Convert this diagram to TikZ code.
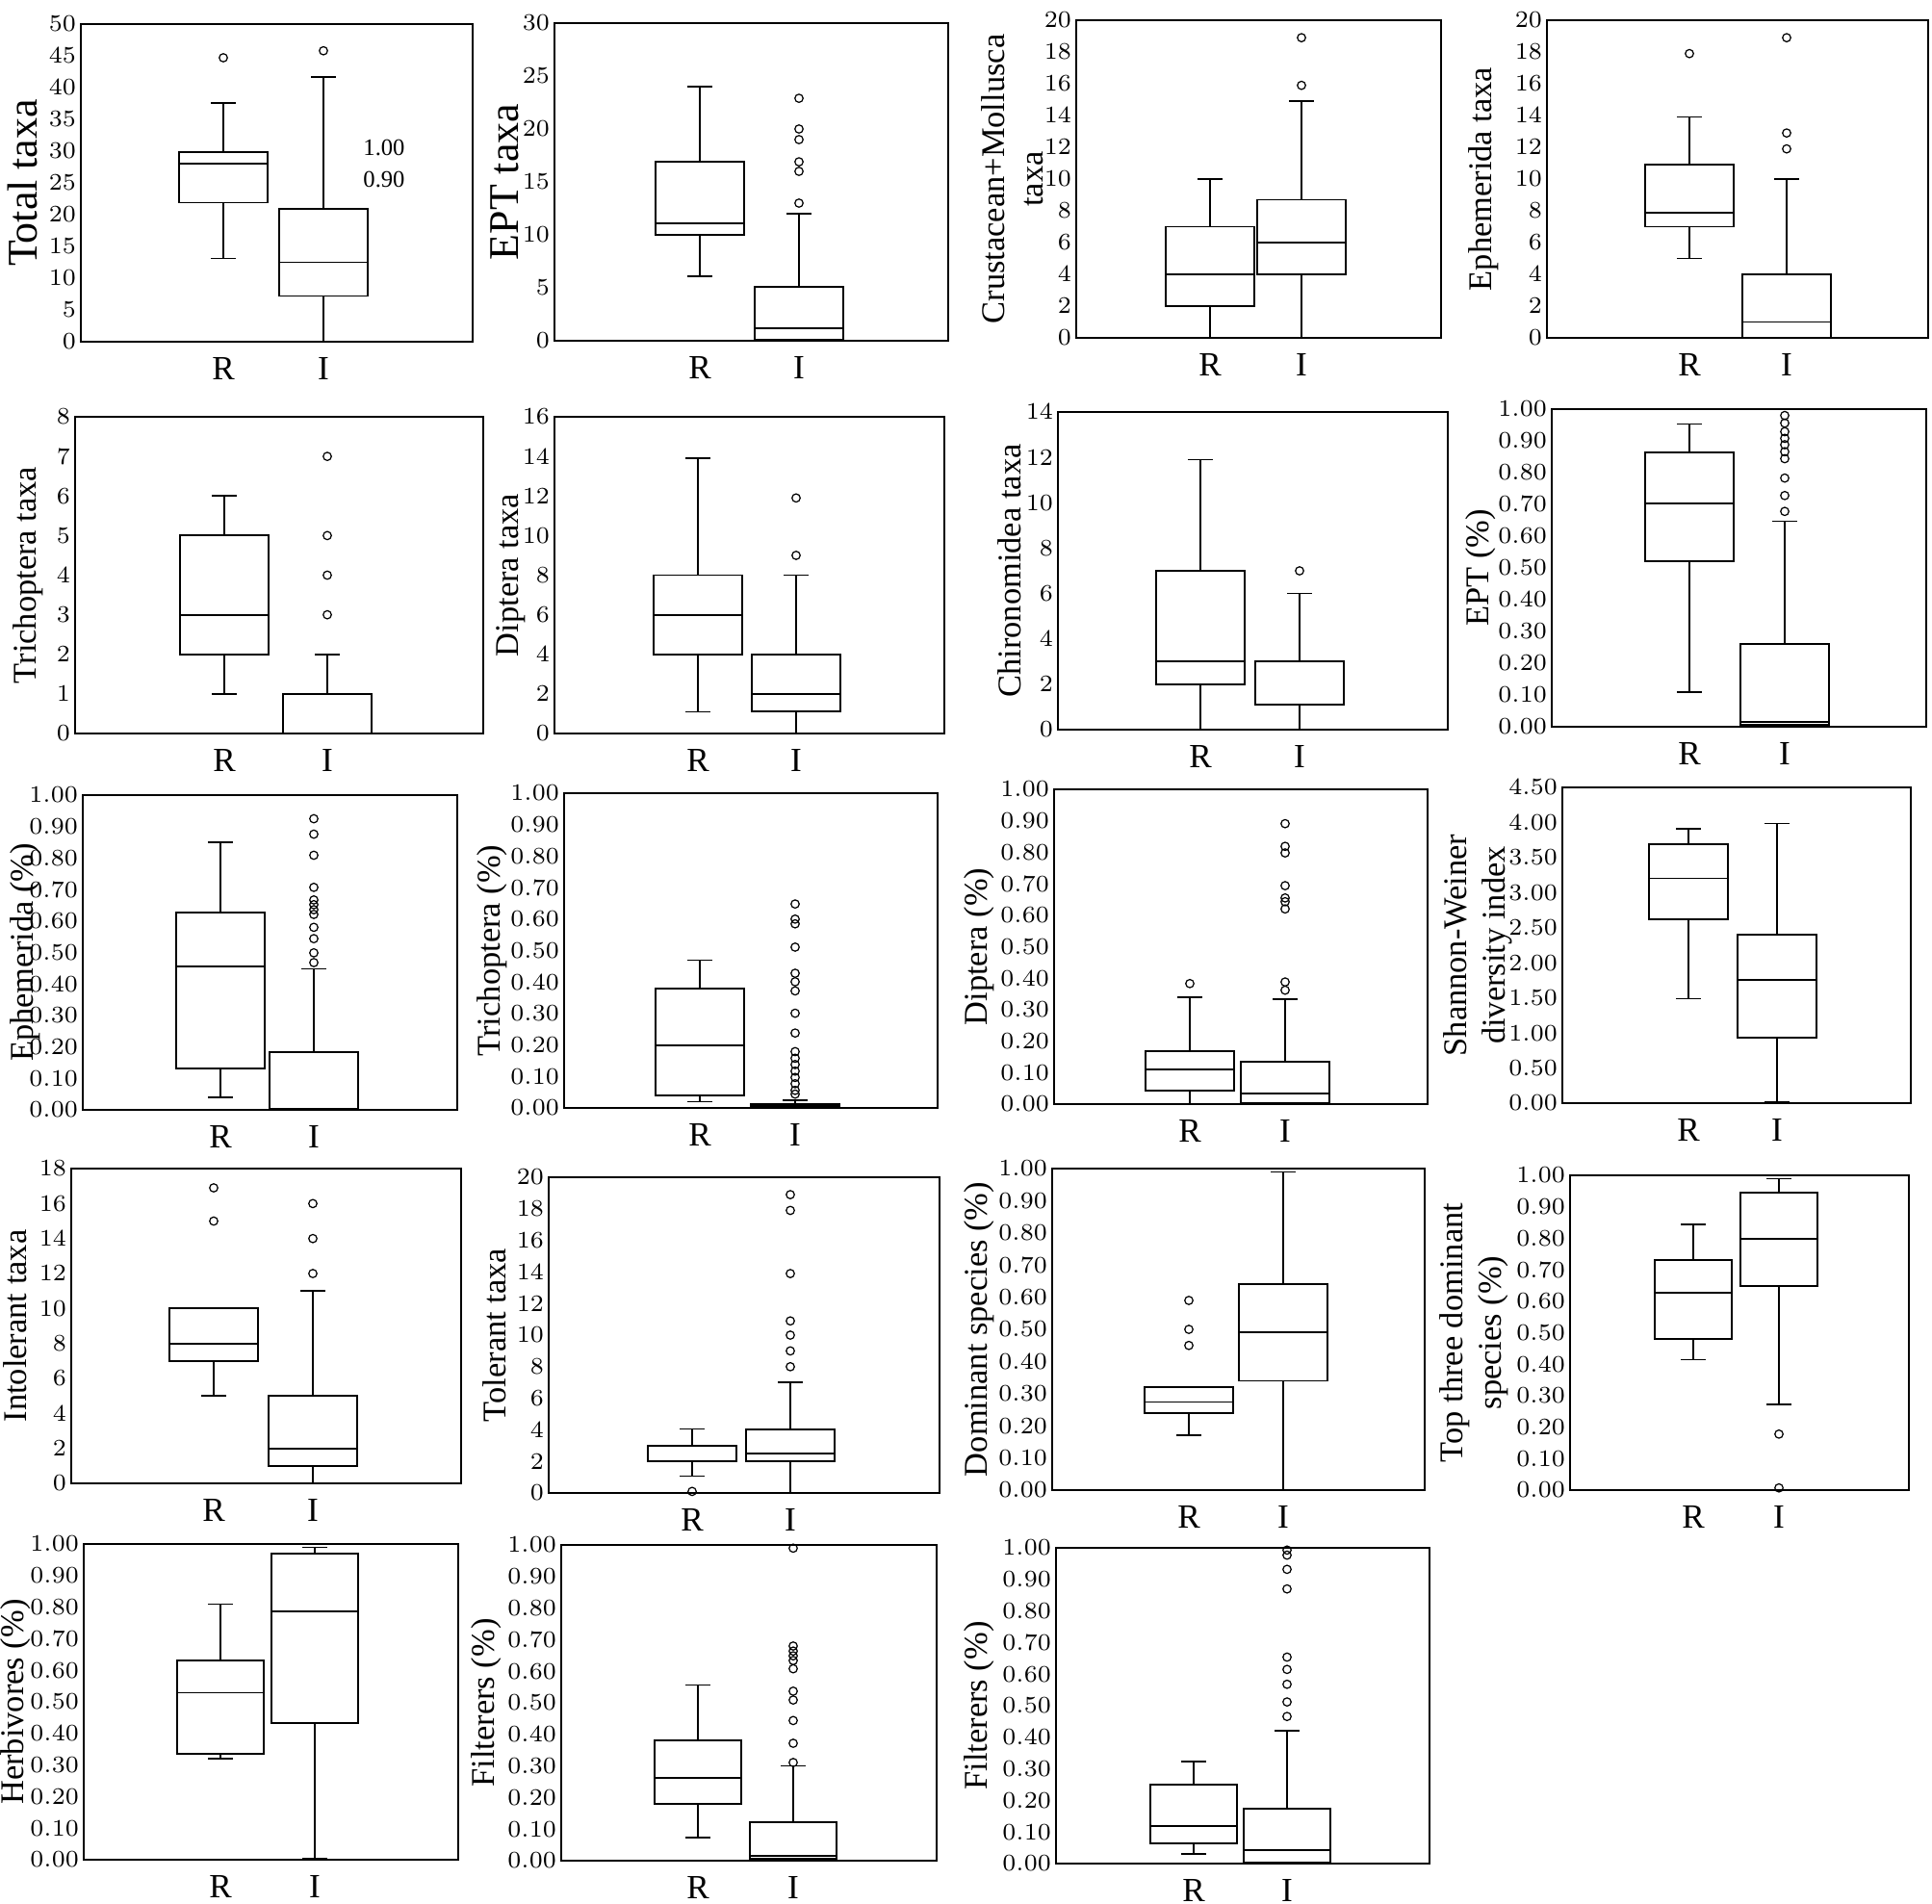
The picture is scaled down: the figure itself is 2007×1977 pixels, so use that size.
\documentclass[tikz,border=0pt]{standalone}
\usepackage{fontspec}
\setmainfont{Liberation Serif}
\tikzset{
  frm/.style={line width=0.6pt},
  bxs/.style={line width=0.55pt},
  wsk/.style={line width=0.45pt},
  outl/.style={circle,draw,line width=0.35pt,inner sep=0pt,minimum size=0.85mm},
  tick/.style={font=\fontsize{7}{8}\selectfont,inner sep=1pt},
  ylab/.style={rotate=90,align=center,font=\fontsize{9.8}{11.4}\selectfont,inner sep=0pt},
  glab/.style={font=\fontsize{10}{12}\selectfont,inner sep=0pt}
}
\newcommand\biglab{\fontsize{12.5}{14}\selectfont}
\def\hw{46}
% panel: left, top, right, bottom, ymax, step, decimals, label x, label
\newcommand\panel[9]{%
  \draw[frm] (#1,#2) rectangle (#3,#4);
  \pgfmathtruncatemacro\nt{round(#5/#6)}
  \begin{scope}[shift={(0,#4)},yscale={-(#4-#2)/#5}]
    \foreach \i in {0,...,\nt}{
      \pgfmathsetmacro\v{\i*#6}
      \pgfmathprintnumberto[fixed,fixed zerofill,precision=#7]{\v}{\vtxt}
      \node[tick,anchor=east] at (#1-1,\v) {\vtxt};}
  \end{scope}
  \node[ylab] at (#8,{(#2+#4)/2}) {#9};
  \xdef\pB{#4}\pgfmathsetmacro\pS{-(#4-#2)/#5}\xdef\pS{\pS}}
% box: group, x, low, q1, median, q3, high
\newcommand\bx[7]{%
  \begin{scope}[shift={(0,\pB)},yscale=\pS]
    \draw[wsk] (#2,#3) -- (#2,#4) (#2,#6) -- (#2,#7)
      (#2-13,#3) -- (#2+13,#3) (#2-13,#7) -- (#2+13,#7);
    \draw[bxs] (#2-\hw,#4) rectangle (#2+\hw,#6) (#2-\hw,#5) -- (#2+\hw,#5);
    \node[glab] at (#2,0) [yshift=-2.8mm] {#1};
  \end{scope}}
% outliers: x, values
\newcommand\ol[2]{%
  \begin{scope}[shift={(0,\pB)},yscale=\pS]
    \foreach \o in {#2} \node[outl] at (#1,\o) {};
  \end{scope}}
\begin{document}
\begin{tikzpicture}[x=0.1mm,y=-0.1mm]
\useasboundingbox (0,0) rectangle (2007,1977);
% row 1
\panel{84}{25}{491}{355}{50}{5}{0}{23}{\biglab Total taxa}
\bx{R}{232}{13.1}{21.9}{28.0}{29.9}{37.6} \ol{232}{44.7}
\bx{I}{336}{0}{7.2}{12.5}{20.9}{41.7} \ol{336}{45.8}
\node[tick] (s1) at (399,153) {1.00};
\node[tick] (s2) at (399,186) {0.90};
\panel{576}{24}{985}{354}{30}{5}{0}{524}{\biglab EPT taxa}
\bx{R}{727}{6.1}{10.0}{11.1}{16.9}{24.0}
\bx{I}{830}{0}{0.1}{1.2}{5.1}{12.0} \ol{830}{13,16,16.9,19,20,22.9}
\panel{1118}{21}{1497}{351}{20}{2}{0}{1052}{Crustacean+Mollusca\\taxa}
\bx{R}{1257}{0}{2}{4}{7}{10}
\bx{I}{1352}{0}{4}{6}{8.7}{14.9} \ol{1352}{15.9,18.9}
\panel{1607}{21}{2003}{351}{20}{2}{0}{1541}{Ephemerida taxa}
\bx{R}{1755}{5}{7}{7.9}{10.9}{13.9} \ol{1755}{17.9}
\bx{I}{1856}{0}{0}{1}{4}{10} \ol{1856}{11.9,12.9,18.9}
% row 2
\panel{78}{433}{502}{762}{8}{1}{0}{29}{Trichoptera taxa}
\bx{R}{233}{1}{2}{3}{5}{6}
\bx{I}{340}{0}{0}{0}{1}{2} \ol{340}{3,4,5,7}
\panel{576}{433}{981}{762}{16}{2}{0}{531}{Diptera taxa}
\bx{R}{725}{1.1}{4}{6}{8}{13.9}
\bx{I}{827}{0}{1.1}{2}{4}{8} \ol{827}{9,11.9}
\panel{1099}{428}{1504}{758}{14}{2}{0}{1049}{Chironomidea taxa}
\bx{R}{1247}{0}{2}{3}{7}{11.9}
\bx{I}{1350}{0}{1.1}{3}{3}{6} \ol{1350}{7}
\panel{1612}{425}{2001}{755}{1}{0.1}{2}{1538}{EPT (\%)}
\bx{R}{1755}{0.11}{0.522}{0.703}{0.865}{0.953}
\bx{I}{1854}{0}{0.005}{0.015}{0.262}{0.647} \ol{1854}{0.678,0.728,0.783,0.844,0.866,0.888,0.908,0.929,0.956,0.98}
% row 3
\panel{86}{826}{475}{1153}{1}{0.1}{2}{26}{Ephemerida (\%)}
\bx{R}{229}{0.04}{0.132}{0.456}{0.626}{0.85}
\bx{I}{326}{0}{0}{0.002}{0.183}{0.448} \ol{326}{0.468,0.499,0.544,0.580,0.621,0.636,0.652,0.667,0.707,0.809,0.876,0.925}
\panel{586}{824}{974}{1151}{1}{0.1}{2}{511}{Trichoptera (\%)}
\bx{R}{727}{0.02}{0.04}{0.20}{0.38}{0.47}
\bx{I}{826}{0}{0}{0.005}{0.013}{0.025} \ol{826}{0.044,0.056,0.077,0.097,0.117,0.138,0.158,0.179,0.238,0.301,0.372,0.401,0.428,0.511,0.585,0.600,0.648}
\panel{1095}{820}{1483}{1147}{1}{0.1}{2}{1017}{Diptera (\%)}
\bx{R}{1236}{0.002}{0.044}{0.109}{0.168}{0.339} \ol{1236}{0.383}
\bx{I}{1335}{0}{0.003}{0.033}{0.135}{0.334} \ol{1335}{0.362,0.388,0.620,0.643,0.655,0.694,0.798,0.819,0.891}
\def\hw{41}
\panel{1623}{818}{1985}{1146}{4.5}{0.5}{2}{1535}{Shannon-Weiner\\diversity index}
\bx{R}{1754}{1.488}{2.623}{3.204}{3.685}{3.914}
\bx{I}{1846}{0.02}{0.938}{1.753}{2.403}{3.983}
\def\hw{46}
% row 4
\panel{74}{1214}{479}{1541}{18}{2}{0}{16}{Intolerant taxa}
\bx{R}{222}{5}{7}{8}{10}{10} \ol{222}{15,16.9}
\bx{I}{325}{0}{1}{2}{5}{11} \ol{325}{12,14,16}
\panel{570}{1223}{976}{1551}{20}{2}{0}{514}{Tolerant taxa}
\bx{R}{719}{1.08}{2}{2}{3}{4.05} \ol{719}{0.1}
\bx{I}{821}{0}{2}{2.5}{4}{7} \ol{821}{8,9,10,10.9,13.9,17.9,18.9}
\panel{1093}{1214}{1480}{1548}{1}{0.1}{2}{1017}{Dominant species (\%)}
\bx{R}{1235}{0.17}{0.24}{0.274}{0.32}{0.32} \ol{1235}{0.45,0.50,0.59}
\bx{I}{1333}{0}{0.34}{0.49}{0.64}{0.99}
\def\hw{40}
\panel{1631}{1221}{1983}{1548}{1}{0.1}{2}{1531}{Top three dominant\\species (\%)}
\bx{R}{1759}{0.415}{0.48}{0.626}{0.73}{0.844}
\bx{I}{1848}{0.272}{0.649}{0.797}{0.945}{0.99} \ol{1848}{0.007,0.178}
\def\hw{45}
% row 5
\panel{87}{1604}{476}{1932}{1}{0.1}{2}{16}{Herbivores (\%)}
\bx{R}{229}{0.32}{0.335}{0.529}{0.63}{0.81}
\bx{I}{327}{0.003}{0.432}{0.788}{0.97}{0.99}
\panel{583}{1605}{973}{1933}{1}{0.1}{2}{505}{Filterers (\%)}
\bx{R}{725}{0.074}{0.18}{0.262}{0.38}{0.557}
\bx{I}{824}{0}{0.005}{0.015}{0.122}{0.30} \ol{824}{0.311,0.372,0.444,0.509,0.537,0.608,0.634,0.649,0.664,0.68,0.99}
\panel{1097}{1608}{1485}{1936}{1}{0.1}{2}{1017}{Filterers (\%)}
\bx{R}{1240}{0.03}{0.064}{0.12}{0.25}{0.323}
\bx{I}{1337}{0}{0.003}{0.043}{0.174}{0.42} \ol{1337}{0.466,0.512,0.568,0.615,0.654,0.870,0.932,0.977,0.993}
\end{tikzpicture}
\end{document}
